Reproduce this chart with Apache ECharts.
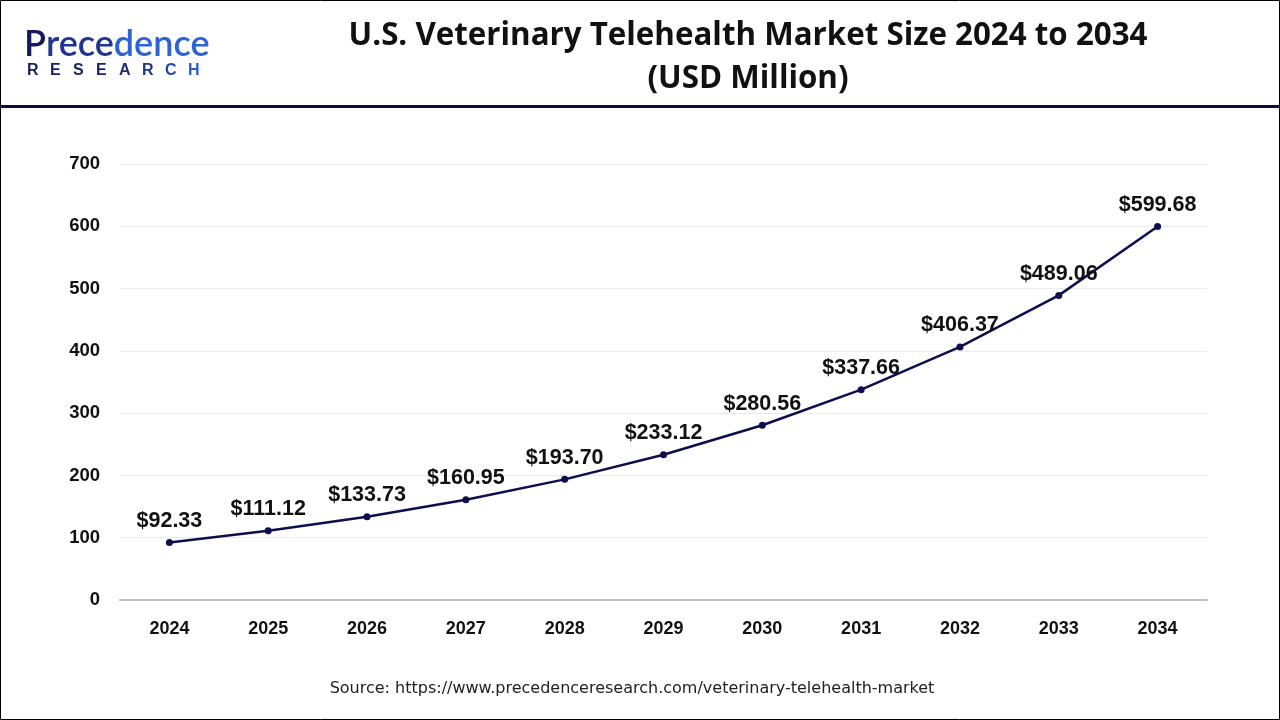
<!DOCTYPE html>
<html>
<head>
<meta charset="utf-8">
<script src="https://cdn.jsdelivr.net/npm/echarts@6/dist/echarts.min.js"></script>
<style>
html,body{margin:0;padding:0;background:#fff;}
#chart{width:1280px;height:720px;}
</style>
</head>
<body>
<div id="chart"></div>
<script>
const categories = ['2024','2025','2026','2027','2028','2029','2030','2031','2032','2033','2034'];
const values = [92.33,111.12,133.73,160.95,193.70,233.12,280.56,337.66,406.37,489.06,599.68];
const titleLines = ['U.S. Veterinary Telehealth Market Size 2024 to 2034','(USD Million)'];
const sourceText = 'Source: https://www.precedenceresearch.com/veterinary-telehealth-market';
const researchLetters = ['R','E','S','E','A','R','C','H'];
const researchColors = ['#1a1f5e','#1a1f5e','#1b2263','#1c2568','#1e2d78','#203590','#2448b0','#2a5ccc'];

const chart = echarts.init(document.getElementById('chart'));

const graphics = [
  {type:'rect', shape:{x:0.5,y:0.5,width:1279,height:719}, style:{fill:'none',stroke:'#000',lineWidth:1}, silent:true},
  {type:'rect', shape:{x:0,y:105,width:1280,height:3}, style:{fill:'#0c0c3c'}, silent:true},
  {type:'text', x:24, y:26, style:{
    text:'{a|P}{b|rece}{c|dence}',
    rich:{
      a:{fill:'#141a5c', font:'600 36px "Lato", "Noto Sans", sans-serif'},
      b:{fill:'#1f3590', font:'600 36px "Lato", "Noto Sans", sans-serif'},
      c:{fill:'#2c63d6', font:'600 36px "Lato", "Noto Sans", sans-serif'}
    }
  }},
  {type:'text', x:632, y:689, style:{text:sourceText, fill:'#222', font:'16px "DejaVu Sans", sans-serif', align:'center', verticalAlign:'middle'}}
];
researchLetters.forEach((ch,i)=>{
  graphics.push({type:'text', x:27+i*23, y:63, style:{text:ch, fill:researchColors[i], font:'bold 16px "Liberation Sans", Arial, sans-serif'}});
});

const fam = '"Liberation Sans", Arial, sans-serif';

chart.setOption({
  backgroundColor:'#fff',
  animation:false,
  title:{
    text: titleLines.join('\n'),
    left: 743, top: 10, textAlign:'center',
    textStyle:{fontSize:31.3, fontWeight:'bold', color:'#111', fontFamily:'"Open Sans", "Noto Sans", sans-serif', lineHeight:43}
  },
  graphic: graphics,
  grid:{left:120, right:73, top:164, bottom:120, containLabel:false},
  xAxis:{
    type:'category', data:categories, boundaryGap:true,
    axisLine:{show:true, lineStyle:{color:'#bfbfbf', width:2}},
    axisTick:{show:false},
    axisLabel:{color:'#111', fontSize:18, fontWeight:'bold', margin:20, fontFamily:fam}
  },
  yAxis:{
    type:'value', min:0, max:700, interval:100,
    axisLine:{show:false}, axisTick:{show:false},
    splitLine:{lineStyle:{color:'#ebebeb', width:1}},
    axisLabel:{color:'#111', fontSize:18.5, fontWeight:'bold', margin:20, fontFamily:fam}
  },
  series:[{
    type:'line', data:values,
    symbol:'circle', symbolSize:7,
    lineStyle:{color:'#0e0e4e', width:2.5},
    itemStyle:{color:'#0e0e4e'},
    label:{
      show:true, position:'top', distance:7,
      formatter:p=>'$'+p.value.toFixed(2),
      color:'#111', fontSize:21.5, fontWeight:'bold', fontFamily:fam
    }
  }]
});
</script>
</body>
</html>
